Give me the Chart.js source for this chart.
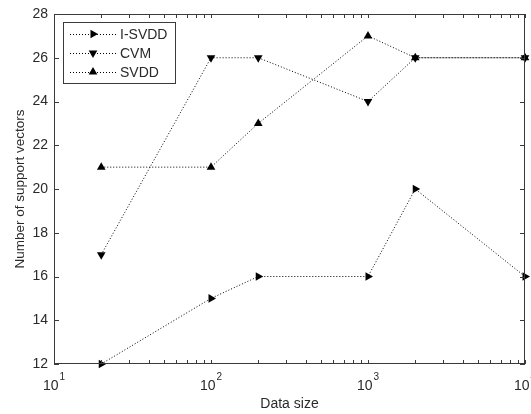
<!DOCTYPE html>
<html>
<head>
<meta charset="utf-8">
<script src="https://cdn.jsdelivr.net/npm/chart.js@4/dist/chart.umd.min.js"></script>
<style>
html,body{margin:0;padding:0;background:#fff;}
#wrap{width:531px;height:414px;}
</style>
</head>
<body>
<div id="wrap"><canvas id="c" width="531" height="414"></canvas></div>
<script>
const dataSizes = [20, 100, 200, 1000, 2000, 10000];
const seriesNames = ['I-SVDD', 'CVM', 'SVDD'];
const isvddValues = [12, 15, 16, 16, 20, 16];
const cvmValues = [17, 26, 26, 24, 26, 26];
const svddValues = [21, 21, 23, 27, 26, 26];
const xMajorTicks = [10, 100, 1000, 10000];
const xTickExponents = ['1', '2', '3', '4'];
const yTicks = [12, 14, 16, 18, 20, 22, 24, 26, 28];
const xTitle = 'Data size';
const yTitle = 'Number of support vectors';

const FONT = 'Liberation Sans, Arial, sans-serif';
const TEXT = '#2a2a2a';
const AXIS = '#3a3a3a';
const rotations = [90, 180, 0];

function pts(vals){ return dataSizes.map((x,i)=>({x:x, y:vals[i]})); }

const allSeries = [isvddValues, cvmValues, svddValues];
const datasets = allSeries.map((vals, i) => ({
  label: seriesNames[i],
  data: pts(vals),
  borderColor: '#000',
  backgroundColor: '#000',
  borderWidth: 1,
  borderDash: [1, 2],
  pointStyle: 'triangle',
  pointRotation: rotations[i],
  pointRadius: 5,
  pointBorderWidth: 0,
  pointBackgroundColor: '#000',
  tension: 0,
  clip: false
}));

function triangle(ctx, x, y, r, rotDeg){
  const rot = rotDeg * Math.PI / 180;
  ctx.beginPath();
  for (let k = 0; k < 3; k++) {
    const a = rot - Math.PI/2 + k * 2*Math.PI/3;
    const px = x + Math.cos(a) * r, py = y + Math.sin(a) * r;
    if (k === 0) ctx.moveTo(px, py); else ctx.lineTo(px, py);
  }
  ctx.closePath();
  ctx.fill();
}

const decorPlugin = {
  id: 'decor',
  afterDraw(chart) {
    const ctx = chart.ctx;
    const ca = chart.chartArea;
    const xs = chart.scales.x, ys = chart.scales.y;
    ctx.save();
    // box
    ctx.strokeStyle = AXIS;
    ctx.lineWidth = 1;
    ctx.strokeRect(ca.left + 0.5, ca.top + 0.5, ca.right - ca.left - 1, ca.bottom - ca.top - 1);
    // x ticks (major+minor) inward at top and bottom
    ctx.beginPath();
    for (let d = 10; d < 10000; d *= 10) {
      for (let m = 1; m <= 10; m++) {
        const v = d * m;
        const px = Math.round(xs.getPixelForValue(v)) + 0.5;
        const len = 4;
        ctx.moveTo(px, ca.bottom); ctx.lineTo(px, ca.bottom - len);
        ctx.moveTo(px, ca.top); ctx.lineTo(px, ca.top + len);
      }
    }
    // y ticks inward left and right
    yTicks.forEach(v => {
      const py = Math.round(ys.getPixelForValue(v)) + 0.5;
      ctx.moveTo(ca.left, py); ctx.lineTo(ca.left + 5, py);
      ctx.moveTo(ca.right, py); ctx.lineTo(ca.right - 5, py);
    });
    ctx.stroke();
    // x tick labels with exponents
    ctx.fillStyle = TEXT;
    ctx.textBaseline = 'alphabetic';
    xMajorTicks.forEach((v, i) => {
      const px = xs.getPixelForValue(v);
      ctx.font = '14px ' + FONT;
      const wBase = ctx.measureText('10').width;
      ctx.font = '10px ' + FONT;
      const wExp = ctx.measureText(xTickExponents[i]).width;
      const start = px - (wBase + wExp + 1) / 2;
      ctx.font = '14px ' + FONT;
      ctx.textAlign = 'left';
      ctx.fillText('10', start, 390);
      ctx.font = '10px ' + FONT;
      ctx.fillText(xTickExponents[i], start + wBase + 1, 380);
    });
    // legend
    const lx = 63, ly = 22, lw = 112, lh = 61;
    ctx.fillStyle = '#fff';
    ctx.fillRect(lx, ly, lw, lh);
    ctx.strokeStyle = AXIS;
    ctx.strokeRect(lx + 0.5, ly + 0.5, lw, lh);
    const rowsY = [34, 53, 72];
    seriesNames.forEach((name, i) => {
      const y = rowsY[i];
      ctx.strokeStyle = '#000';
      ctx.setLineDash([1, 2]);
      ctx.beginPath();
      ctx.moveTo(70, y + 0.5); ctx.lineTo(116, y + 0.5);
      ctx.stroke();
      ctx.setLineDash([]);
      ctx.fillStyle = '#000';
      triangle(ctx, 93, y, 5, rotations[i]);
      ctx.fillStyle = TEXT;
      ctx.font = '14px ' + FONT;
      ctx.textAlign = 'left';
      ctx.textBaseline = 'middle';
      ctx.fillText(name, 120, y + 1);
    });
    ctx.restore();
  }
};

new Chart(document.getElementById('c'), {
  type: 'line',
  data: { datasets: datasets },
  options: {
    responsive: false,
    animation: false,
    layout: { padding: { left: 12, right: 6, top: 14, bottom: 1 } },
    plugins: { legend: { display: false }, tooltip: { enabled: false } },
    scales: {
      x: {
        type: 'logarithmic',
        min: 10, max: 10000,
        grid: { display: false, drawTicks: false },
        border: { display: false },
        afterBuildTicks: s => { s.ticks = xMajorTicks.map(v => ({ value: v })); },
        ticks: { display: false },
        afterFit: s => { s.height = 49; s.paddingLeft = 0; s.paddingRight = 0; },
        title: { display: true, text: xTitle, color: TEXT, font: { family: FONT, size: 14 }, padding: 0 }
      },
      y: {
        min: 12, max: 28,
        grid: { display: false, drawTicks: false },
        border: { display: false },
        afterBuildTicks: s => { s.ticks = yTicks.map(v => ({ value: v })); },
        ticks: { color: TEXT, font: { family: FONT, size: 14 }, padding: 6 },
        afterFit: s => { s.width = 42; s.paddingTop = 0; s.paddingBottom = 0; },
        title: { display: true, text: yTitle, color: TEXT, font: { family: FONT, size: 13.5 }, padding: 0 }
      }
    }
  },
  plugins: [decorPlugin]
});
</script>
</body>
</html>
